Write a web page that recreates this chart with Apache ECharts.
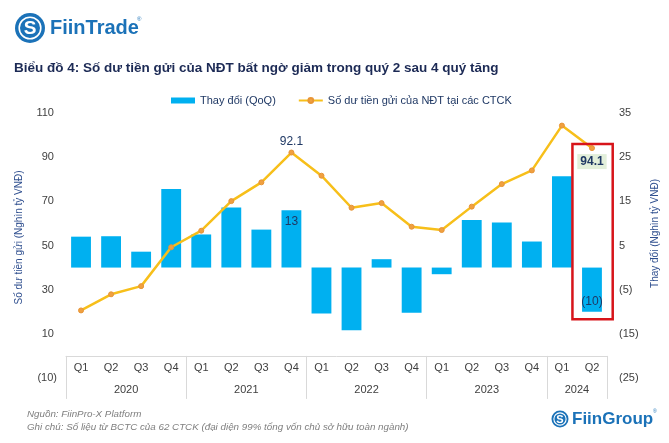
<!DOCTYPE html>
<html>
<head>
<meta charset="utf-8">
<script src="https://cdn.jsdelivr.net/npm/echarts@6/dist/echarts.min.js"></script>
<style>
html,body{margin:0;padding:0;background:#fff;}
#chart{width:669px;height:443px;}
</style>
</head>
<body>
<div id="chart"></div>
<script>
// ---- data ----
const quarters = ['Q1','Q2','Q3','Q4','Q1','Q2','Q3','Q4','Q1','Q2','Q3','Q4','Q1','Q2','Q3','Q4','Q1','Q2'];
const yearSlots = ['', '', '2020', '', '', '', '2021', '', '', '', '2022', '', '', '', '2023', '', '', '2024', ''];
const changeQoQ = [7, 7.1, 3.6, 17.8, 7.5, 13.6, 8.6, 13, -10.4, -14.2, 1.9, -10.2, -1.5, 10.8, 10.2, 5.9, 20.7, -10];
const balance = [20.6, 27.9, 31.6, 49.2, 56.7, 70.1, 78.6, 92.1, 81.6, 67.1, 69.2, 58.5, 57, 67.6, 77.8, 84, 104.3, 94.1];
const leftTicks = {min: -10, max: 110, interval: 20};
const rightTicks = {min: -25, max: 35, interval: 10};
const yearStartIdx = [0, 4, 8, 12, 16];
const barLabelIdx = [7, 17];
const lineLabelTopIdx = [7];
const lineLabelBoxIdx = [17];
const seriesNames = ['Thay đổi (QoQ)', 'Số dư tiền gửi của NĐT tại các CTCK'];

const fmtNum = v => v < 0 ? '(' + Math.round(-v) + ')' : String(Math.round(v));
const navy = '#1f3864';

const barData = changeQoQ.map((v, i) => {
  if (barLabelIdx.indexOf(i) < 0) return v;
  return {value: v, label: {show: true, position: v < 0 ? 'insideBottom' : 'insideTop', distance: v < 0 ? 4 : 6,
    color: navy, fontSize: 12, formatter: p => fmtNum(p.value)}};
});
const lineData = balance.map((v, i) => {
  if (lineLabelTopIdx.indexOf(i) >= 0) {
    return {value: v, label: {show: true, position: 'top', distance: 2, color: navy, fontSize: 12}};
  }
  if (lineLabelBoxIdx.indexOf(i) >= 0) {
    return {value: v, label: {show: true, position: 'bottom', distance: 3, color: navy, fontSize: 12,
      fontWeight: 'bold', backgroundColor: '#e2efda', padding: [2, 3, 1, 3]}};
  }
  return v;
});

const chart = echarts.init(document.getElementById('chart'), null, {renderer: 'canvas'});
const FONT = 'Liberation Sans, Arial, sans-serif';

function logo(cx, cy, r, text, tx, fs, color) {
  return [
    {type: 'circle', shape: {cx: cx, cy: cy, r: r}, style: {fill: color}},
    {type: 'circle', shape: {cx: cx, cy: cy, r: r * 0.72}, style: {fill: 'none', stroke: '#fff', lineWidth: r > 10 ? 1.6 : 1.1}},
    {type: 'text', x: cx, y: cy + 0.5, style: {text: 'S', fill: '#fff', font: 'bold ' + Math.round(r * 1.25) + 'px ' + FONT, textAlign: 'center', textVerticalAlign: 'middle'}},
    {type: 'text', x: tx, y: cy, style: {text: text, fill: color, font: 'bold ' + fs + 'px ' + FONT, textAlign: 'left', textVerticalAlign: 'middle'}}
  ];
}

const option = {
  backgroundColor: '#fff',
  textStyle: {fontFamily: FONT},
  animation: false,
  legend: {
    top: 90, left: 166, itemWidth: 24, itemHeight: 6, itemGap: 22,
    textStyle: {color: navy, fontSize: 11, fontFamily: FONT},
    data: [
      {name: seriesNames[0], icon: 'rect'},
      {name: seriesNames[1]}
    ]
  },
  grid: {left: 66, right: 62, top: 113, bottom: 65, containLabel: false},
  xAxis: [
    {
      type: 'category', data: quarters, position: 'bottom',
      axisLine: {onZero: true, onZeroAxisIndex: 0, lineStyle: {color: '#d9d9d9', width: 1}},
      axisTick: {show: true, length: 43, interval: (i) => yearStartIdx.indexOf(i) >= 0, lineStyle: {color: '#d9d9d9', width: 1}},
      axisLabel: {interval: 0, margin: -16, fontSize: 11, color: '#404040', fontFamily: FONT},
      splitLine: {show: false}
    },
    {
      type: 'category', data: yearSlots, position: 'bottom', boundaryGap: false,
      axisLine: {show: false, onZero: false},
      axisTick: {show: false},
      axisLabel: {interval: 0, margin: 6, fontSize: 11, color: '#404040', fontFamily: FONT},
      splitLine: {show: false}
    }
  ],
  yAxis: [
    {
      type: 'value', position: 'left', min: leftTicks.min, max: leftTicks.max, interval: leftTicks.interval,
      axisLine: {show: false}, axisTick: {show: false}, splitLine: {show: false},
      axisLabel: {margin: 9, fontSize: 11, color: '#404040', formatter: v => v < 0 ? fmtNum(v) : fmtNum(v) + ' '},
      name: 'Số dư tiền gửi (Nghìn tỷ VNĐ)', nameLocation: 'middle', nameRotate: 90, nameGap: 42,
      nameTextStyle: {color: '#2f4f8f', fontSize: 10, padding: [0, 0, 0, 16]}
    },
    {
      type: 'value', position: 'right', min: rightTicks.min, max: rightTicks.max, interval: rightTicks.interval,
      axisLine: {show: false}, axisTick: {show: false}, splitLine: {show: false},
      axisLabel: {margin: 12, fontSize: 11, color: '#404040', formatter: v => fmtNum(v)},
      name: 'Thay đổi (Nghìn tỷ VNĐ)', nameLocation: 'middle', nameRotate: 90, nameGap: 43,
      nameTextStyle: {color: '#2f4f8f', fontSize: 10, padding: [0, 0, 0, 24]}
    }
  ],
  series: [
    {
      name: seriesNames[0], type: 'bar', xAxisIndex: 0, yAxisIndex: 1, data: barData,
      barCategoryGap: '34%', itemStyle: {color: '#00b0f0'}, z: 2
    },
    {
      name: seriesNames[1], type: 'line', xAxisIndex: 0, yAxisIndex: 0, data: lineData,
      lineStyle: {color: '#f7bf1a', width: 2.5}, itemStyle: {color: '#f0a040', borderColor: '#e89536', borderWidth: 1},
      symbol: 'circle', symbolSize: 5, showSymbol: true, z: 3
    }
  ],
  graphic: []
};
chart.setOption(option);

// annotation box around last quarter computed from the scales
const cLast = chart.convertToPixel({xAxisIndex: 0}, quarters.length - 1);
const cPrev = chart.convertToPixel({xAxisIndex: 0}, quarters.length - 2);
const bw = cLast - cPrev;
const yTop = chart.convertToPixel({yAxisIndex: 0}, 96);
const yBot = chart.convertToPixel({yAxisIndex: 0}, 16.6);

const graphics = [].concat(
  logo(30, 28, 15, 'FiinTrade', 50, 20, '#1b72b8'),
  [{type: 'text', x: 137, y: 16, style: {text: '®', fill: '#1b72b8', font: '6px ' + FONT}}],
  [{type: 'text', left: 14, top: 61, style: {text: 'Biểu đồ 4: Số dư tiền gửi của NĐT bất ngờ giảm trong quý 2 sau 4 quý tăng', fill: '#1c2a55', font: 'bold 13.5px ' + FONT}}],
  [{type: 'text', x: 27, y: 414, style: {text: 'Nguồn: FiinPro-X Platform', fill: '#7f7f7f', font: 'italic 9.8px ' + FONT, textVerticalAlign: 'middle'}}],
  [{type: 'text', x: 27, y: 427, style: {text: 'Ghi chú: Số liệu từ BCTC của 62 CTCK (đại diện 99% tổng vốn chủ sở hữu toàn ngành)', fill: '#7f7f7f', font: 'italic 9.8px ' + FONT, textVerticalAlign: 'middle'}}],
  logo(560, 419, 8.5, 'FiinGroup', 572, 17, '#1b72b8'),
  [{type: 'text', x: 653, y: 409, style: {text: '®', fill: '#1b72b8', font: '5px ' + FONT}}],
  [{type: 'rect', shape: {x: cLast - 0.65 * bw, y: yTop, width: 1.34 * bw, height: yBot - yTop},
    style: {fill: 'none', stroke: '#d7141a', lineWidth: 2.5}, z: 10}]
);
chart.setOption({graphic: graphics});
</script>
</body>
</html>
